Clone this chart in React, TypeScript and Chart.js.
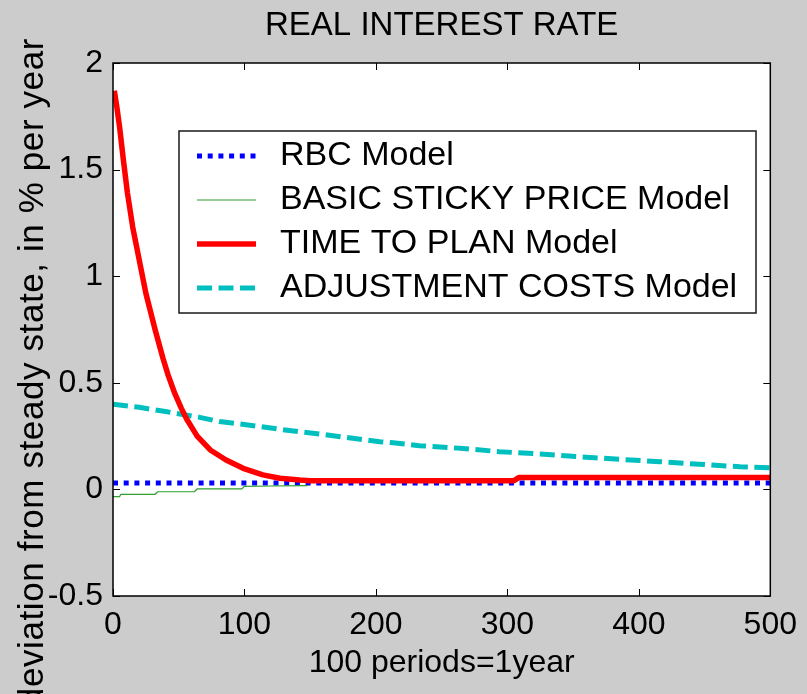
import React, { useEffect, useRef } from "react";
import { Chart, registerables } from "chart.js";

Chart.register(...registerables);

// ---- data ----
const titleText = "REAL INTEREST RATE";
const xTitle = "100 periods=1year";
const yTitle = "deviation from steady state, in % per year";
const seriesNames = [
  "RBC Model",
  "BASIC STICKY PRICE Model",
  "TIME TO PLAN Model",
  "ADJUSTMENT COSTS Model",
];

const rbcX = [0, 100, 200, 300, 400, 500];
const rbcY = [0.03, 0.03, 0.03, 0.03, 0.03, 0.03];

const stickyX = [0, 5, 6, 32, 34, 62, 64, 98, 100, 120, 148];
const stickyY = [-0.034, -0.034, -0.023, -0.023, -0.011, -0.011, 0.002, 0.002, 0.014, 0.016, 0.018];

const ttpX = [1, 3, 5, 8, 11, 15, 20, 25, 32, 38, 42, 47, 52, 56, 64, 74, 86, 99, 114, 127, 142, 150, 305, 309, 400, 500];
const ttpY = [1.87, 1.79, 1.7, 1.54, 1.39, 1.23, 1.075, 0.92, 0.75, 0.615, 0.535, 0.45, 0.38, 0.33, 0.25, 0.185, 0.138, 0.099, 0.068, 0.052, 0.044, 0.041, 0.041, 0.056, 0.056, 0.056];

const acX = [0, 20, 40, 66, 81, 97, 127, 145, 157, 173, 188, 203, 213, 233, 264, 294, 325, 355, 385, 416, 446, 477, 500];
const acY = [0.4, 0.385, 0.365, 0.338, 0.318, 0.307, 0.282, 0.268, 0.26, 0.247, 0.235, 0.224, 0.219, 0.205, 0.193, 0.177, 0.166, 0.153, 0.141, 0.13, 0.118, 0.106, 0.102];

const xTicks = [0, 100, 200, 300, 400, 500];
const yTicks = [-0.5, 0, 0.5, 1, 1.5, 2];

const FONT = "'Liberation Sans', Arial, sans-serif";

const toPts = (xs: number[], ys: number[]) => xs.map((x, i) => ({ x, y: ys[i] }));

const framePlugin = {
  id: "matlabFrame",
  beforeDraw(chart: any) {
    const { ctx, chartArea: a } = chart;
    ctx.save();
    ctx.fillStyle = "#cccccc";
    ctx.fillRect(0, 0, chart.width, chart.height);
    ctx.fillStyle = "#ffffff";
    ctx.fillRect(a.left, a.top, a.right - a.left, a.bottom - a.top);
    ctx.restore();
  },
  afterDatasetsDraw(chart: any) {
    const { ctx, chartArea: a, scales } = chart;
    ctx.save();
    // inward tick marks on all four sides
    ctx.strokeStyle = "#000";
    ctx.lineWidth = 1;
    const tl = 7;
    ctx.beginPath();
    scales.x.ticks.forEach((t: any) => {
      const px = Math.round(scales.x.getPixelForValue(t.value)) + 0.5;
      ctx.moveTo(px, a.bottom);
      ctx.lineTo(px, a.bottom - tl);
      ctx.moveTo(px, a.top);
      ctx.lineTo(px, a.top + tl);
    });
    scales.y.ticks.forEach((t: any) => {
      const py = Math.round(scales.y.getPixelForValue(t.value)) + 0.5;
      ctx.moveTo(a.left, py);
      ctx.lineTo(a.left + tl, py);
      ctx.moveTo(a.right, py);
      ctx.lineTo(a.right - tl, py);
    });
    ctx.stroke();
    // axes box
    ctx.lineWidth = 1.5;
    ctx.strokeRect(a.left, a.top, a.right - a.left, a.bottom - a.top);

    // legend box
    const lx = 179, ly = 131, lw = 577, lh = 182;
    ctx.fillStyle = "#fff";
    ctx.fillRect(lx, ly, lw, lh);
    ctx.lineWidth = 1.5;
    ctx.strokeStyle = "#1a1a1a";
    ctx.strokeRect(lx, ly, lw, lh);
    const rows = [156, 200, 244, 288];
    chart.data.datasets.forEach((ds: any, i: number) => {
      const y = rows[i];
      ctx.save();
      ctx.strokeStyle = ds.borderColor;
      ctx.lineWidth = ds.borderWidth;
      ctx.setLineDash(ds.borderDash || []);
      ctx.lineCap = "butt";
      ctx.beginPath();
      ctx.moveTo(197, y);
      ctx.lineTo(256, y);
      ctx.stroke();
      ctx.restore();
      ctx.fillStyle = "#000";
      ctx.font = `34px ${FONT}`;
      ctx.textAlign = "left";
      ctx.textBaseline = "middle";
      ctx.fillText(ds.label, 280, y);
    });
    ctx.restore();
  },
  afterDraw(chart: any) {
    const { ctx } = chart;
    ctx.save();
    ctx.font = `35px ${FONT}`;
    try {
      (ctx as any).letterSpacing = "0.6px";
    } catch (e) {}
    ctx.fillStyle = "#000";
    const w = ctx.measureText(yTitle).width;
    const cy = 38 + w / 2;
    ctx.translate(43, cy);
    ctx.rotate(-Math.PI / 2);
    ctx.textAlign = "center";
    ctx.textBaseline = "alphabetic";
    ctx.fillText(yTitle, 0, 0);
    ctx.restore();
  },
};

export default function App() {
  const ref = useRef<HTMLCanvasElement | null>(null);
  useEffect(() => {
    if (!ref.current) return;
    const chart = new Chart(ref.current, {
      type: "line",
      data: {
        datasets: [
          {
            label: seriesNames[0],
            data: toPts(rbcX, rbcY),
            borderColor: "#0000ff",
            borderWidth: 5,
            borderDash: [5, 5.7],
            pointRadius: 0,
            tension: 0,
            order: 3,
          },
          {
            label: seriesNames[1],
            data: toPts(stickyX, stickyY),
            borderColor: "#2e9e2e",
            borderWidth: 1.2,
            pointRadius: 0,
            tension: 0,
            order: 2,
          },
          {
            label: seriesNames[2],
            data: toPts(ttpX, ttpY),
            borderColor: "#ff0000",
            borderWidth: 5.5,
            pointRadius: 0,
            tension: 0,
            borderJoinStyle: "round",
            order: 0,
          },
          {
            label: seriesNames[3],
            data: toPts(acX, acY),
            borderColor: "#00bfbf",
            borderWidth: 5,
            borderDash: [15, 6.5],
            pointRadius: 0,
            tension: 0,
            order: 1,
          },
        ] as any,
      },
      options: {
        animation: false,
        responsive: false,
        layout: { padding: { left: 0, right: 36, top: 0, bottom: 0 } },
        plugins: {
          legend: { display: false },
          tooltip: { enabled: false },
          title: {
            display: true,
            text: titleText,
            fullSize: false,
            color: "#000",
            font: { family: FONT, size: 33, weight: "normal" as any },
            padding: { top: 6, bottom: 17.4 },
          },
        },
        scales: {
          x: {
            type: "linear",
            min: 0,
            max: 500,
            afterFit: (s: any) => {
              s.height = 98;
            },
            afterBuildTicks: (s: any) => {
              s.ticks = xTicks.map((v) => ({ value: v }));
            },
            ticks: {
              color: "#000",
              font: { family: FONT, size: 32 },
              padding: 10,
              maxRotation: 0,
              autoSkip: false,
              callback: (v: any) => String(v),
            },
            grid: { display: false, drawTicks: false },
            border: { display: false },
            title: {
              display: true,
              text: xTitle,
              color: "#000",
              font: { family: FONT, size: 32 },
              padding: { top: 0, bottom: 12 },
            },
          },
          y: {
            type: "linear",
            min: -0.5,
            max: 2,
            afterFit: (s: any) => {
              s.width = 113;
            },
            afterBuildTicks: (s: any) => {
              s.ticks = yTicks.map((v) => ({ value: v }));
            },
            ticks: {
              color: "#000",
              font: { family: FONT, size: 32 },
              padding: 10,
              autoSkip: false,
              callback: (v: any) => String(v),
            },
            grid: { display: false, drawTicks: false },
            border: { display: false },
            title: { display: false },
          },
        },
      },
      plugins: [framePlugin],
    });
    return () => chart.destroy();
  }, []);
  return (
    <div style={{ position: "absolute", left: 0, top: 0, width: 807, height: 694 }}>
      <canvas ref={ref} width={807} height={694} style={{ display: "block" }} />
    </div>
  );
}
